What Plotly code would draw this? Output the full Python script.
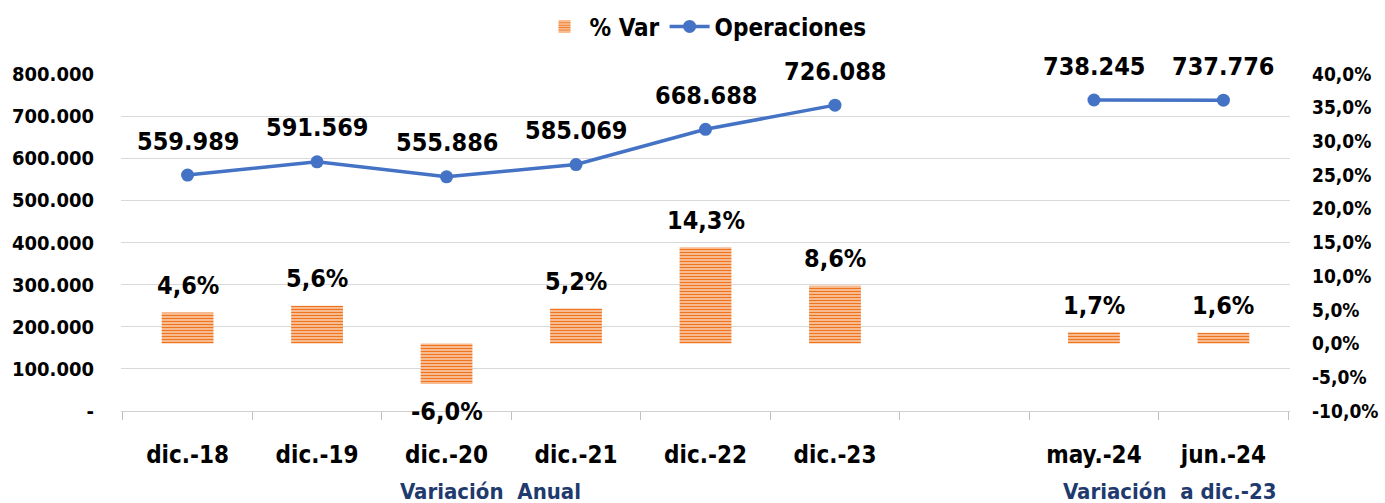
import plotly.graph_objects as go

categories = ["dic.-18", "dic.-19", "dic.-20", "dic.-21", "dic.-22", "dic.-23", " ", "may.-24", "jun.-24"]
operaciones = [559989, 591569, 555886, 585069, 668688, 726088, None, 738245, 737776]
var_pct = [4.6, 5.6, -6.0, 5.2, 14.3, 8.6, None, 1.7, 1.6]
left_tickvals = [0, 100000, 200000, 300000, 400000, 500000, 600000, 700000, 800000]
left_ticktext = ["-", "100.000", "200.000", "300.000", "400.000", "500.000", "600.000", "700.000", "800.000"]
right_tickvals = [-10, -5, 0, 5, 10, 15, 20, 25, 30, 35, 40]
right_ticktext = ["-10,0%", "-5,0%", "0,0%", "5,0%", "10,0%", "15,0%", "20,0%", "25,0%", "30,0%", "35,0%", "40,0%"]
group_labels = ["Variación&nbsp;&nbsp;Anual", "Variación&nbsp;&nbsp;a dic.-23"]
group_positions = [0.3157, 0.897]

FONT = "DejaVu Sans Condensed, DejaVu Sans, Arial"
BLUE = "#4472C4"
NAVY = "#1F3A6E"


def fmt_int(v):
    return f"{v:,}".replace(",", ".")


def fmt_pct(v):
    return f"{v:.1f}".replace(".", ",") + "%"


fig = go.Figure()
fig.add_trace(go.Bar(
    x=categories, y=var_pct, name="% Var", yaxis="y2",
    width=0.4,
    marker=dict(
        color="#EE7420",
        line=dict(width=0),
        pattern=dict(shape="-", fgcolor="#EE7420", bgcolor="#FBD3B3",
                     fgopacity=1, size=3, solidity=0.5, fillmode="replace"),
    ),
))
fig.add_trace(go.Scatter(
    x=categories, y=operaciones, name="Operaciones", yaxis="y",
    mode="lines+markers", connectgaps=False,
    line=dict(color=BLUE, width=3.5),
    marker=dict(color=BLUE, size=13),
))

annotations = []
for c, v in zip(categories, operaciones):
    if v is None:
        continue
    annotations.append(dict(x=c, y=v, xref="x", yref="y", text=f"<b>{fmt_int(v)}</b>",
                            showarrow=False, yshift=34,
                            font=dict(family=FONT, size=25, color="black")))
for c, v in zip(categories, var_pct):
    if v is None:
        continue
    annotations.append(dict(x=c, y=v, xref="x", yref="y2", text=f"<b>{fmt_pct(v)}</b>",
                            showarrow=False, yshift=27 if v >= 0 else -27,
                            font=dict(family=FONT, size=25, color="black")))
for t, px in zip(group_labels, group_positions):
    annotations.append(dict(x=px, y=-0.24, xref="paper", yref="paper", text=f"<b>{t}</b>",
                            showarrow=False, xanchor="center", yanchor="middle",
                            font=dict(family=FONT, size=22, color=NAVY)))

fig.update_layout(
    width=1385, height=503,
    margin=dict(l=121, r=95, t=74, b=92, autoexpand=False),
    paper_bgcolor="white", plot_bgcolor="rgba(0,0,0,0)",
    separators=",.",
    font=dict(family=FONT, color="black"),
    showlegend=True,
    legend=dict(orientation="h", x=0.5, xanchor="center", y=1.14, yanchor="middle",
                font=dict(family=FONT, size=24, color="black", weight="bold"),
                itemwidth=40, traceorder="normal", bgcolor="rgba(0,0,0,0)"),
    xaxis=dict(type="category", categoryorder="array", categoryarray=categories,
               tickson="boundaries", ticks="outside", ticklen=8, tickcolor="#BFBFBF",
               showline=True, linecolor="#D0D0D0", linewidth=1,
               showgrid=False, ticklabelstandoff=22, automargin=False,
               tickfont=dict(family=FONT, size=24, color="black", weight="bold")),
    yaxis=dict(range=[0, 800000], tickvals=left_tickvals, ticktext=left_ticktext,
               showgrid=True, gridcolor="#D9D9D9", gridwidth=1, zeroline=False,
               ticks="", ticklabelstandoff=26, automargin=False,
               tickfont=dict(family=FONT, size=20, color="black", weight="bold")),
    yaxis2=dict(range=[-10, 40], overlaying="y", side="right", tickvals=right_tickvals,
                ticktext=right_ticktext, showgrid=False, zeroline=False,
                ticks="", ticklabelstandoff=21, automargin=False,
                tickfont=dict(family=FONT, size=19, color="black", weight="bold")),
    annotations=annotations,
)

fig.write_html("out.html", config={"displayModeBar": False},
               post_script="document.body.style.margin='0';document.body.style.padding='0';document.body.style.overflow='hidden';")
